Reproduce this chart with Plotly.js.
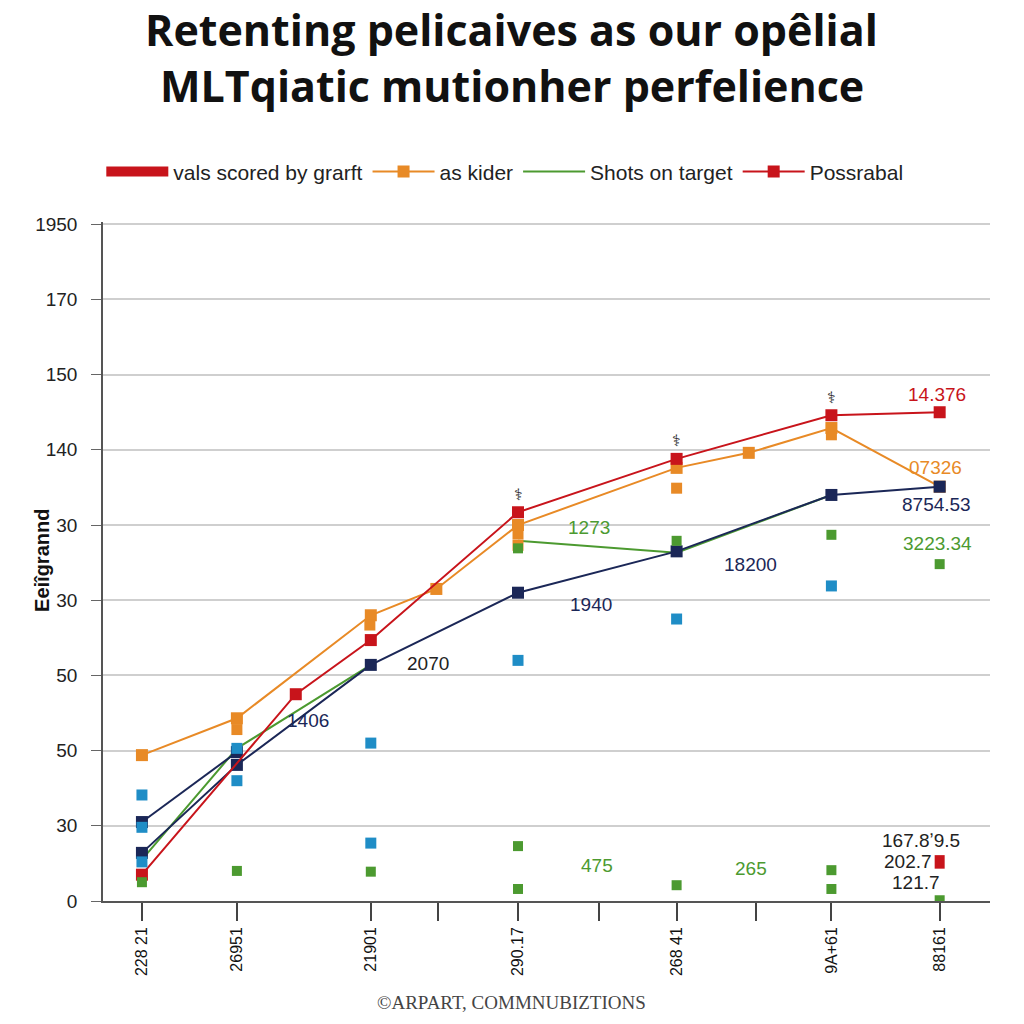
<!DOCTYPE html>
<html><head><meta charset="utf-8">
<script src="https://cdn.plot.ly/plotly-3.0.1.min.js"></script>
<style>body{margin:0;background:#fff}#chart{width:1024px;height:1024px}</style>
</head><body><div id="chart"></div>
<script>
// ---- axis ticks ----
const xTickVals = [1, 2, 3.41, 4.12, 4.96, 5.81, 6.63, 7.47, 8.26, 9.4];
const xTickText = ["228 21", "26951", "21901", "", "290.17", "", "268 41", "", "9A+61", "88161"];
const yTickVals = [0, 1, 2, 3, 4, 5, 6, 7, 8, 9];
const yTickText = ["0", "30", "50", "50", "30", "30", "140", "150", "170", "1950"];

// ---- series ----
const possX = [1, 2.62, 3.41, 4.96, 6.63, 8.26, 9.4];
const possY = [0.35, 2.75, 3.47, 5.17, 5.88, 6.46, 6.50];

const kiderX = [1, 2, 3.41, 4.1, 4.96, 6.63, 7.39, 8.26, 9.4];
const kiderY = [1.94, 2.43, 3.80, 4.15, 5.00, 5.76, 5.96, 6.29, 5.51];
const kiderExtraX = [3.4, 4.96, 4.96, 6.63, 8.26, 2];
const kiderExtraY = [3.67, 4.73, 4.88, 5.49, 6.20, 2.28];

const shotsX = [1, 2, 3.41, null, 4.96, 6.63, 8.26];
const shotsY = [0.55, 2.03, 3.14, null, 4.79, 4.63, 5.40];

const navyAX = [1, 2];
const navyAY = [1.05, 1.98];
const navyBX = [1, 2, 3.41, 4.96, 6.63, 8.26, 9.4];
const navyBY = [0.64, 1.81, 3.14, 4.10, 4.65, 5.40, 5.51];

const blueX = [1, 1, 1, 2, 2, 3.41, 3.41, 4.96, 6.63, 8.26];
const blueY = [1.41, 0.98, 0.52, 1.60, 2.03, 2.10, 0.77, 3.20, 3.75, 4.19];

const greenPtX = [1, 2, 3.41, 4.96, 4.96, 4.96, 6.63, 6.63, 8.26, 8.26, 8.26, 9.4, 9.4];
const greenPtY = [0.25, 0.40, 0.39, 0.73, 0.16, 4.69, 4.79, 0.21, 4.87, 0.41, 0.16, 4.48, 0.01];

const grarftX = [9.4, 9.4];
const grarftY = [0.61, 0.43];

// ---- labels ----
const labelText = ["1273", "18200", "1940", "2070", "1406", "475", "265", "14.376", "07326", "8754.53", "3223.34", "167.8ʼ9.5", "202.7", "121.7", "⚕", "⚕", "⚕"];
const labelX = [5.71, 7.41, 5.73, 4.01, 2.75, 5.79, 7.41, 9.37, 9.36, 9.37, 9.38, 9.2, 9.07, 9.15, 4.96, 6.63, 8.26];
const labelY = [4.97, 4.47, 3.94, 3.16, 2.40, 0.47, 0.43, 6.73, 5.77, 5.27, 4.75, 0.80, 0.52, 0.24, 5.41, 6.12, 6.70];
const labelColor = ["#4c9a30", "#1b2757", "#1b2757", "#222", "#1b2757", "#4c9a30", "#4c9a30", "#c8141b", "#e88a26", "#1b2757", "#4c9a30", "#222", "#222", "#222", "#222", "#222", "#222"];
const labelSize = [19, 19, 19, 19, 19, 19, 19, 19, 19, 19, 19, 19, 19, 19, 16, 16, 16];

const titleLines = ["Retenting pelicaives as our opêlial", "MLTqiatic mutionher perfelience"];
const yTitle = "Eeiîgrannd";
const footer = "©ARPART, COMMNUBIZTIONS";

const RED = "#c8141b", ORANGE = "#e88a26", GREEN = "#4c9a30", NAVY = "#1b2757", BLUE = "#1f8dc6";
const sq = (c, s) => ({symbol: "square", size: s, color: c});

const traces = [
  {x: grarftX, y: grarftY, mode: "lines", name: "vals scored by grarft", line: {color: RED, width: 10}},
  {x: kiderX, y: kiderY, mode: "lines+markers", name: "as kider", line: {color: ORANGE, width: 2}, marker: sq(ORANGE, 12)},
  {x: shotsX, y: shotsY, mode: "lines", name: "Shots on target", line: {color: GREEN, width: 2}, connectgaps: false},
  {x: navyAX, y: navyAY, mode: "lines+markers", showlegend: false, line: {color: NAVY, width: 2}, marker: sq(NAVY, 12)},
  {x: navyBX, y: navyBY, mode: "lines+markers", showlegend: false, line: {color: NAVY, width: 2}, marker: sq(NAVY, 12)},
  {x: possX, y: possY, mode: "lines+markers", name: "Possrabal", line: {color: RED, width: 2}, marker: sq(RED, 12)},
  {x: kiderExtraX, y: kiderExtraY, mode: "markers", showlegend: false, marker: sq(ORANGE, 11)},
  {x: blueX, y: blueY, mode: "markers", showlegend: false, marker: sq(BLUE, 11)},
  {x: greenPtX, y: greenPtY, mode: "markers", showlegend: false, marker: sq(GREEN, 10)}
];

const annotations = labelText.map((t, i) => ({
  x: labelX[i], y: labelY[i], xref: "x", yref: "y", text: t, showarrow: false,
  font: {family: "Liberation Sans, Arial, sans-serif", size: labelSize[i], color: labelColor[i]}
}));
const titleY = [1.2842, 1.2003];
titleLines.forEach((t, i) => annotations.push({
  x: 0.461, y: titleY[i], xref: "paper", yref: "paper", xanchor: "center", yanchor: "middle",
  text: "<b>" + t + "</b>", showarrow: false,
  font: {family: "Open Sans, Lato, sans-serif", size: 43, color: "#111"}
}));
annotations.push({
  x: -0.069, y: 0.502, xref: "paper", yref: "paper", xanchor: "center", yanchor: "middle",
  text: "<b>" + yTitle + "</b>", textangle: -90, showarrow: false,
  font: {family: "Liberation Sans Narrow, Liberation Sans, Arial, sans-serif", size: 20, color: "#111"}
});
annotations.push({
  x: 0.461, y: -0.150, xref: "paper", yref: "paper", xanchor: "center", yanchor: "middle",
  text: footer, showarrow: false,
  font: {family: "Liberation Serif, Times New Roman, serif", size: 19, color: "#444"}
});

const layout = {
  width: 1024, height: 1024,
  paper_bgcolor: "#fff", plot_bgcolor: "#fff",
  margin: {l: 103, r: 34, t: 222, b: 123},
  showlegend: true,
  legend: {
    orientation: "h", x: 0.453, xanchor: "center", y: 1.074, yanchor: "middle",
    font: {family: "Liberation Sans, Arial, sans-serif", size: 21, color: "#222"},
    itemwidth: 62, bgcolor: "rgba(0,0,0,0)"
  },
  xaxis: {
    range: [0.59, 9.93], tickmode: "array", tickvals: xTickVals, ticktext: xTickText,
    tickangle: -90, ticks: "outside", ticklen: 18, tickcolor: "#444", tickwidth: 1.5,
    showgrid: false, zeroline: false, showline: true, linecolor: "#555", linewidth: 1.5,
    tickfont: {family: "Liberation Sans, Arial, sans-serif", size: 16, color: "#111"}
  },
  yaxis: {
    range: [0, 9.03], tickmode: "array", tickvals: yTickVals, ticktext: yTickText,
    ticks: "outside", ticklen: 10, tickcolor: "#666", tickwidth: 1, ticklabelstandoff: 10,
    showgrid: true, gridcolor: "#cfcfcf", gridwidth: 1.5, zeroline: false,
    showline: true, linecolor: "#555", linewidth: 1.5,
    tickfont: {family: "Liberation Sans, Arial, sans-serif", size: 19, color: "#222"}
  },
  annotations: annotations
};

Plotly.newPlot("chart", traces, layout, {displayModeBar: false, responsive: false});
</script>
</body></html>
